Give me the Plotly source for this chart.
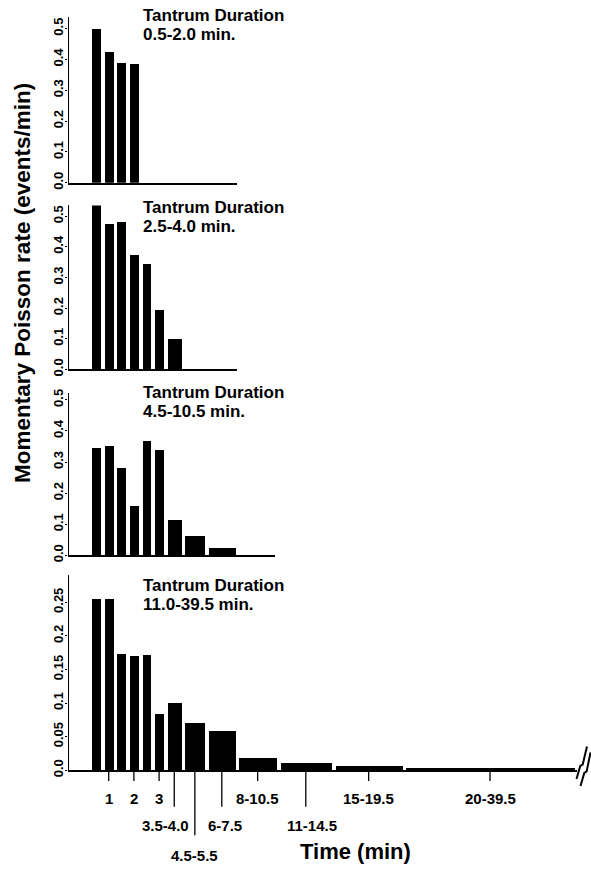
import plotly.graph_objects as go

# ---------------- data ----------------
BIN_LABELS = ["0.5", "1.0", "1.5", "2.0", "2.5", "3.0", "3.5-4.0", "4.5-5.5",
              "6-7.5", "8-10.5", "11-14.5", "15-19.5", "20-39.5"]

RATE_0_5_TO_2_0 = [0.499, 0.425, 0.389, 0.387]
RATE_2_5_TO_4_0 = [0.554, 0.474, 0.481, 0.373, 0.342, 0.191, 0.097]
RATE_4_5_TO_10_5 = [0.345, 0.351, 0.282, 0.160, 0.367, 0.340, 0.112, 0.061, 0.022]
RATE_11_0_TO_39_5 = [0.255, 0.255, 0.173, 0.170, 0.172, 0.084, 0.100, 0.071,
                     0.059, 0.018, 0.011, 0.006, 0.004]

PANEL_TITLES = [("Tantrum Duration", "0.5-2.0 min."),
                ("Tantrum Duration", "2.5-4.0 min."),
                ("Tantrum Duration", "4.5-10.5 min."),
                ("Tantrum Duration", "11.0-39.5 min.")]

X_TICK_LABELS = ["1", "2", "3", "3.5-4.0", "4.5-5.5", "6-7.5", "8-10.5",
                 "11-14.5", "15-19.5", "20-39.5"]
X_TICK_BIN = ["1.0", "2.0", "3.0", "3.5-4.0", "4.5-5.5", "6-7.5", "8-10.5",
              "11-14.5", "15-19.5", "20-39.5"]

Y_TICKS_A = [0.0, 0.1, 0.2, 0.3, 0.4, 0.5]
Y_TICKTEXT_A = ["0.0", "0.1", "0.2", "0.3", "0.4", "0.5"]
Y_TICKS_B = [0.0, 0.05, 0.1, 0.15, 0.2, 0.25]
Y_TICKTEXT_B = ["0.0", "0.05", "0.1", "0.15", "0.2", "0.25"]

# ---------------- layout constants (pixels) ----------------
W, H = 591, 871
FONT = "Liberation Sans, Arial, Helvetica, sans-serif"
AX_LEFT = 68.5
SLOT_START = 21.3
SLOT_W = [12.6] * 6 + [17.7, 23.5, 30.4, 41.3, 55.0, 70.7, 172.0]
GAP = 3.7

# panel geometry: (axis top px, baseline px, y max value, x axis end px)
PANELS = [
    (13, 181, 0.538, 237),
    (204, 370, 0.535, 237),
    (394, 558.3, 0.522, 275),
    (578, 776, 0.291, 577),
]
TITLE_MID = [21.5, 216, 403, 598.5]
TITLE_SPACING = 19.5
TICK_ROW = [0, 0, 0, 1, 2, 1, 0, 1, 0, 0]
ROW_TICK_END = [787, 813, 842]
ROW_LABEL_Y = [805, 832, 862]
LABEL_SHIFT = [0, 0, 0, -9, 0, 3, 0, 6, 0, 0]


def px(p):
    return p / W


def py(p):
    return 1 - p / H


# centres / widths of bins in x-units (1 unit = 1 px)
centers, widths = [], []
pos = SLOT_START
for w in SLOT_W:
    centers.append(pos + w / 2)
    widths.append(w - GAP)
    pos += w
center_of = dict(zip(BIN_LABELS, centers))

series = [RATE_0_5_TO_2_0, RATE_2_5_TO_4_0, RATE_4_5_TO_10_5, RATE_11_0_TO_39_5]

fig = go.Figure()
layout = dict(
    width=W, height=H, margin=dict(l=0, r=0, t=0, b=0),
    paper_bgcolor="white", plot_bgcolor="white", showlegend=False,
    font=dict(family=FONT, color="black"),
    bargap=0,
)
shapes, annotations = [], []

for i, (vals, (top, base, ymax, xend)) in enumerate(zip(series, PANELS)):
    n = len(vals)
    xa = "x" if i == 0 else f"x{i+1}"
    ya = "y" if i == 0 else f"y{i+1}"
    fig.add_trace(go.Bar(
        x=centers[:n], y=vals, width=widths[:n],
        marker=dict(color="black", line=dict(width=0)),
        xaxis=xa, yaxis=ya, cliponaxis=False, hoverinfo="skip",
    ))
    key_x = "xaxis" if i == 0 else f"xaxis{i+1}"
    key_y = "yaxis" if i == 0 else f"yaxis{i+1}"
    layout[key_x] = dict(
        domain=[px(AX_LEFT), px(xend)], range=[0, xend - AX_LEFT],
        anchor=ya, showline=True, linecolor="black", linewidth=1.6,
        showgrid=False, zeroline=False, showticklabels=False, ticks="",
        fixedrange=True,
    )
    tv, tt = (Y_TICKS_B, Y_TICKTEXT_B) if i == 3 else (Y_TICKS_A, Y_TICKTEXT_A)
    layout[key_y] = dict(
        domain=[py(base), py(top)], range=[0, ymax], anchor=xa,
        showline=True, linecolor="black", linewidth=1.3,
        showgrid=False, zeroline=False,
        tickvals=tv, ticktext=tt, ticks="outside", ticklen=2, tickwidth=1,
        tickcolor="black", tickangle=-90, ticklabelstandoff=-3,
        tickfont=dict(family=FONT, size=13, color="black", weight="bold"),
        fixedrange=True,
    )
    l1, l2 = PANEL_TITLES[i]
    mid = TITLE_MID[i]
    for txt, cy in ((l1, mid - TITLE_SPACING / 2), (l2, mid + TITLE_SPACING / 2)):
        annotations.append(dict(
            text=txt, xref="paper", yref="paper", x=px(142), y=py(cy),
            xanchor="left", yanchor="middle", showarrow=False, borderpad=0,
            font=dict(family=FONT, size=17, color="black", weight="bold"),
        ))

# bottom axis ticks and staggered labels
for lab, b, row, sh in zip(X_TICK_LABELS, X_TICK_BIN, TICK_ROW, LABEL_SHIFT):
    cx = center_of[b]
    shapes.append(dict(
        type="line", xref="x4", yref="paper", x0=cx, x1=cx,
        y0=py(776), y1=py(ROW_TICK_END[row]),
        line=dict(color="black", width=1.3),
    ))
    annotations.append(dict(
        text=lab, xref="x4", yref="paper", x=cx, y=py(ROW_LABEL_Y[row]),
        xanchor="center", yanchor="middle", showarrow=False, xshift=sh,
        font=dict(family=FONT, size=15, color="black", weight="bold"),
    ))

# axis break marks (two lightning-style slashes)
def bolt(pts):
    segs = []
    for (xa_, ya_), (xb_, yb_) in zip(pts[:-1], pts[1:]):
        segs.append(dict(type="line", xref="paper", yref="paper",
                         x0=px(xa_), y0=py(ya_), x1=px(xb_), y1=py(yb_),
                         line=dict(color="black", width=2)))
    return segs

shapes += bolt([(576.5, 785), (580.5, 771), (582.5, 771), (587, 752)])
shapes += bolt([(580.5, 792), (584.5, 778), (586.5, 778), (590.5, 758)])

# axis titles
annotations.append(dict(
    text="Momentary Poisson rate (events/min)", xref="paper", yref="paper",
    x=px(23), y=py(282.5), xanchor="center", yanchor="middle", textangle=-90,
    showarrow=False,
    font=dict(family=FONT, size=22.5, color="black", weight="bold"),
))
annotations.append(dict(
    text="Time (min)", xref="paper", yref="paper", x=px(355), y=py(858),
    xanchor="center", yanchor="middle", showarrow=False,
    font=dict(family=FONT, size=22, color="black", weight="bold"),
))

layout["shapes"] = shapes
layout["annotations"] = annotations
fig.update_layout(**layout)
fig.write_html(
    "out.html",
    config={"displayModeBar": False},
    post_script="document.body.style.margin='0';document.body.style.overflow='hidden';",
)
